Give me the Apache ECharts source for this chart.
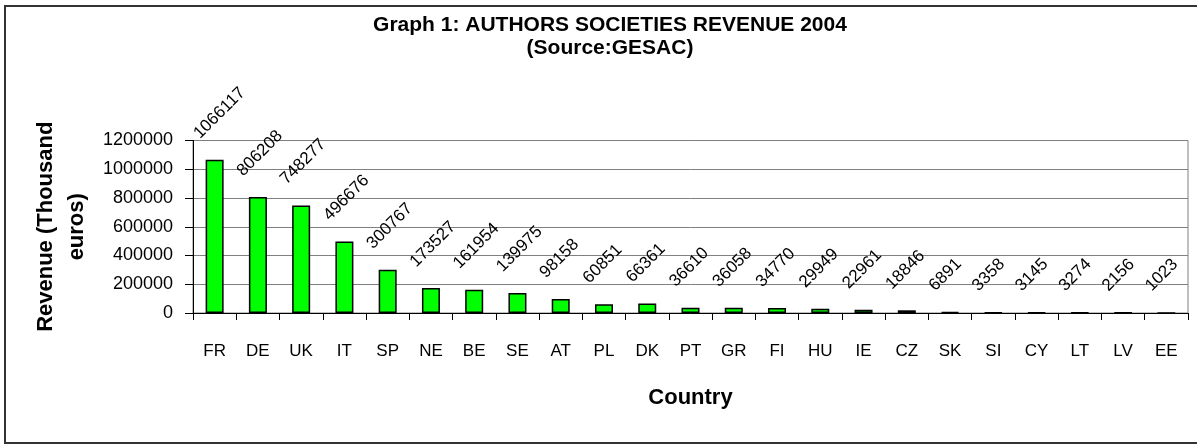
<!DOCTYPE html>
<html>
<head>
<meta charset="utf-8">
<script src="https://cdn.jsdelivr.net/npm/echarts@6/dist/echarts.min.js"></script>
<style>
html,body{margin:0;padding:0;background:#fff;}
#chart{width:1197px;height:444px;}
</style>
</head>
<body>
<div id="chart"></div>
<script>
const categories = ['FR','DE','UK','IT','SP','NE','BE','SE','AT','PL','DK','PT','GR','FI','HU','IE','CZ','SK','SI','CY','LT','LV','EE'];
const revenue = [1066117,806208,748277,496676,300767,173527,161954,139975,98158,60851,66361,36610,36058,34770,29949,22961,18846,6891,3358,3145,3274,2156,1023];
const yTicks = [0,200000,400000,600000,800000,1000000,1200000];
const titleLines = ['Graph 1: AUTHORS SOCIETIES REVENUE 2004','(Source:GESAC)'];
const xName = 'Country';
const yName = 'Revenue (Thousand\neuros)';

const FONT = '"Liberation Sans", Arial, sans-serif';
const chart = echarts.init(document.getElementById('chart'), null, {renderer:'canvas'});
chart.setOption({
  animation:false,
  backgroundColor:'#fff',
  textStyle:{fontFamily:FONT},
  title:{
    text:titleLines.join('\n'),
    left:605, top:9, textAlign:'center',
    textStyle:{fontSize:21, fontWeight:'bold', color:'#000', lineHeight:23, fontFamily:FONT}
  },
  graphic:[{
    type:'polyline', silent:true,
    shape:{points:[[1197,6],[5,6],[5,443],[1197,443]]},
    style:{fill:null, stroke:'#333', lineWidth:2}
  }],
  grid:{left:193, right:9, top:140.5, bottom:131, show:true, borderColor:'#808080', borderWidth:1, backgroundColor:'transparent'},
  xAxis:{
    type:'category', data:categories,
    name:xName, nameLocation:'middle', nameGap:74,
    nameTextStyle:{fontSize:22, fontWeight:'bold', color:'#000', fontFamily:FONT},
    axisLine:{lineStyle:{color:'#000', width:1}},
    axisTick:{show:true, length:7, lineStyle:{color:'#000'}},
    axisLabel:{interval:0, fontSize:17, color:'#000', margin:30, fontFamily:FONT},
    splitLine:{show:false}
  },
  yAxis:{
    type:'value', min:yTicks[0], max:yTicks[yTicks.length-1], interval:yTicks[1]-yTicks[0],
    name:yName, nameLocation:'middle', nameGap:101, nameRotate:90,
    nameTextStyle:{fontSize:22, fontWeight:'bold', color:'#000', lineHeight:31, fontFamily:FONT},
    axisLine:{show:true, lineStyle:{color:'#000', width:1}},
    axisTick:{show:true, length:8, lineStyle:{color:'#000'}},
    axisLabel:{fontSize:18, color:'#000', margin:20, fontFamily:FONT, formatter:function(v){return String(v);}},
    splitLine:{show:true, lineStyle:{color:'#808080', width:1}}
  },
  series:[{
    type:'bar', data:revenue, barWidth:18,
    itemStyle:{color:'#00ff00', borderColor:'#000', borderWidth:1.5},
    label:{
      show:true, position:'top', distance:0, rotate:45,
      align:'left', verticalAlign:'bottom', offset:[4,-21],
      fontSize:17, color:'#000', fontFamily:FONT
    }
  }]
});
</script>
</body>
</html>
